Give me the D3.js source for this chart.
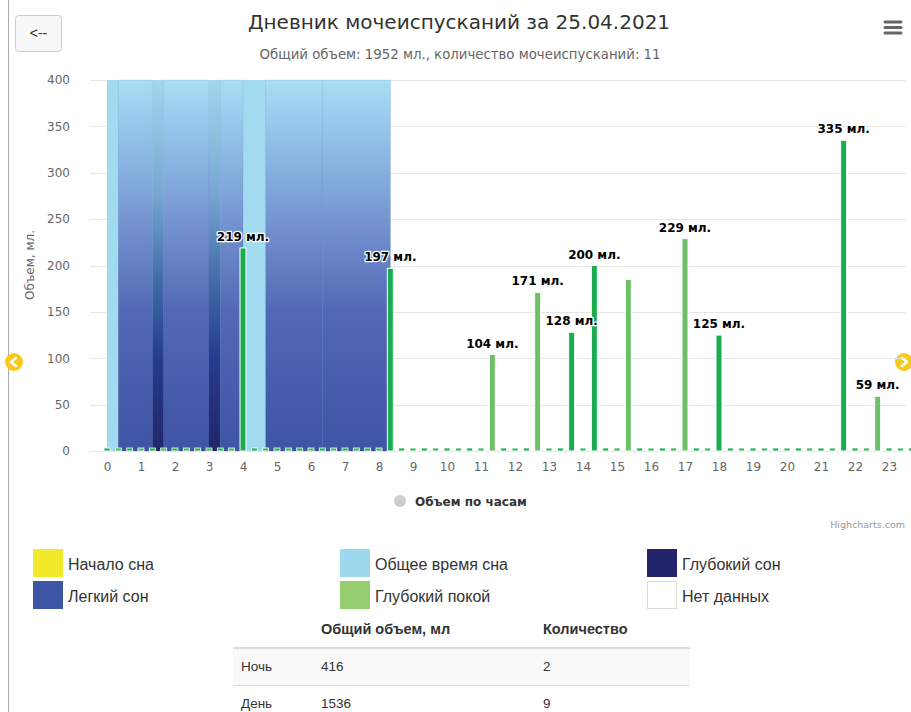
<!DOCTYPE html>
<html>
<head>
<meta charset="utf-8">
<script src="https://cdn.jsdelivr.net/npm/d3@7"></script>
<style>
	body { margin: 0; background: #fff; }
	svg text { font-family: "DejaVu Sans", Verdana, sans-serif; }
	svg .html-like { font-family: "Liberation Sans", Arial, sans-serif; }
</style>
</head>
<body>
<svg id="page" width="911" height="712"></svg>
<script>
// urination events of the day
const eventTimes = ["04:00", "08:20", "11:20", "12:40", "13:40", "14:20", "15:20", "17:00", "18:00", "21:40", "22:40"];
const eventVolumes = [219, 197, 104, 171, 128, 200, 185, 229, 125, 335, 59];
const eventKinds = ["sleep", "sleep", "rest", "rest", "sleep", "sleep", "rest", "rest", "sleep", "sleep", "rest"];
const hiddenLabels = ["15:20"];

// sleep phases
const totalSleep = [["00:00", "08:20"]];
const lightSleep = [["00:20", "01:20"], ["01:40", "03:00"], ["03:20", "04:00"], ["04:40", "06:20"], ["06:20", "08:20"]];
const deepSleep = [["01:20", "01:40"], ["03:00", "03:20"]];

const hourTicks = d3.range(0, 24);
const volumeTicks = [0, 50, 100, 150, 200, 250, 300, 350, 400];

const legendItems = [
	{name: "Начало сна", color: "#f2e92a"},
	{name: "Общее время сна", color: "#9dd9ee"},
	{name: "Глубокий сон", color: "#23246a"},
	{name: "Легкий сон", color: "#3d55a5"},
	{name: "Глубокий покой", color: "#95cc6d"},
	{name: "Нет данных", color: "#ffffff"},
];
const tableHeader = ["", "Общий объем, мл", "Количество"];
const tableRows = [["Ночь", "416", "2"], ["День", "1536", "9"]];

const parseTime = t => { let [h, m] = t.split(":"); return +h + m / 60; };

class UrinationChart {
	constructor() {
		this.svg = d3.select("svg#page");
		this.bounds = {minX: 90, maxX: 906, minY: 80, maxY: 451};

		this.scaleX = d3.scaleLinear().domain([-0.5, 23.5]).range([this.bounds.minX, this.bounds.maxX]);
		this.scaleY = d3.scaleLinear().domain([0, 400]).range([this.bounds.maxY, this.bounds.minY]);

		this.drawFrame();
		this.drawGradients();
		this.drawGrid();
		this.drawSleepBands();
		this.drawZeroSlots();
		this.drawBars();
		this.drawAxes();
		this.drawLegend();
		this.drawPhaseLegend();
		this.drawTable();
	}

	drawFrame() {
		this.svg.append("line")
			.attr("x1", 8.5).attr("x2", 8.5).attr("y1", 0).attr("y2", 712)
			.attr("stroke", "#aaa");

		let btn = this.svg.append("g");
		btn.append("rect")
			.attr("x", 15.5).attr("y", 15.5).attr("width", 46).attr("height", 36).attr("rx", 3)
			.attr("fill", "#f7f7f7").attr("stroke", "#ccc");
		btn.append("text").attr("class", "html-like")
			.attr("x", 38.5).attr("y", 38).attr("text-anchor", "middle")
			.attr("font-size", 14).attr("fill", "#333").text("<--");

		this.svg.append("text")
			.attr("x", 459).attr("y", 29).attr("text-anchor", "middle")
			.attr("font-size", 20).attr("fill", "#333")
			.text("Дневник мочеиспусканий за 25.04.2021");
		this.svg.append("text")
			.attr("x", 460).attr("y", 59).attr("text-anchor", "middle")
			.attr("font-size", 13.3).attr("fill", "#666")
			.text("Общий объем: 1952 мл., количество мочеиспусканий: 11");

		// export menu
		this.svg.append("g").selectAll("line")
			.data([22, 27.5, 33])
			.join("line")
			.attr("x1", 885).attr("x2", 901).attr("y1", d => d).attr("y2", d => d)
			.attr("stroke", "#666").attr("stroke-width", 3).attr("stroke-linecap", "round");

		// navigation arrows
		let arrows = [{x: 14, dir: -1}, {x: 904, dir: 1}];
		let g = this.svg.append("g").selectAll("g").data(arrows).join("g")
			.attr("transform", d => `translate(${d.x} 362)`);
		g.append("circle").attr("r", 9).attr("fill", "#f8c91c");
		g.append("path")
			.attr("d", d => `M${-2 * d.dir} -4 L${3 * d.dir} 0 L${-2 * d.dir} 4`)
			.attr("fill", "none").attr("stroke", "#fff").attr("stroke-width", 2.5)
			.attr("stroke-linecap", "round").attr("stroke-linejoin", "round");
	}

	drawGradients() {
		let defs = this.svg.append("defs");
		let grads = [
			{id: "light-grad", stops: [["0%", "#a9def4"], ["12%", "#97c8ec"], ["38%", "#7594d1"], ["62%", "#5369b5"], ["100%", "#3e54a4"]]},
			{id: "deep-grad", stops: [["0%", "#a3d6ee"], ["30%", "#78a8d2"], ["55%", "#3f6aa8"], ["75%", "#253c8c"], ["100%", "#23266a"]]},
		];
		defs.selectAll("linearGradient").data(grads).join("linearGradient")
			.attr("id", d => d.id)
			.attr("x1", 0).attr("x2", 0).attr("y1", 0).attr("y2", 1)
			.selectAll("stop").data(d => d.stops).join("stop")
			.attr("offset", d => d[0]).attr("stop-color", d => d[1]);
	}

	drawGrid() {
		this.svg.append("g").selectAll("line")
			.data(volumeTicks)
			.join("line")
			.attr("x1", this.bounds.minX).attr("x2", this.bounds.maxX)
			.attr("y1", d => Math.round(this.scaleY(d)) + 0.5)
			.attr("y2", d => Math.round(this.scaleY(d)) + 0.5)
			.attr("stroke", "#e6e6e6");
	}

	drawSleepBands() {
		let g = this.svg.append("g");
		let band = (data, fill) => g.append("g").selectAll("rect")
			.data(data)
			.join("rect")
			.attr("x", d => this.scaleX(parseTime(d[0])))
			.attr("width", d => this.scaleX(parseTime(d[1])) - this.scaleX(parseTime(d[0])))
			.attr("y", this.scaleY(400))
			.attr("height", this.scaleY(0) - this.scaleY(400))
			.attr("fill", fill);
		band(totalSleep, "#a2dbef");
		band(lightSleep, "url(#light-grad)")
			.attr("stroke", "rgba(40,60,150,0.12)").attr("stroke-width", 0.8);
		band(deepSleep, "url(#deep-grad)");
	}

	drawZeroSlots() {
		let taken = eventTimes.map(parseTime);
		let slots = d3.range(0, 72).map(i => i / 3)
			.filter(t => !taken.some(e => Math.abs(e - t) < 0.01));
		this.svg.append("g").selectAll("rect")
			.data(slots)
			.join("rect")
			.attr("x", d => this.scaleX(d) - 3)
			.attr("y", this.scaleY(0) - 3)
			.attr("width", 6).attr("height", 3)
			.attr("fill", (d, i) => i % 2 ? "#3dba62" : "#21b257")
			.attr("stroke", "#fff").attr("stroke-width", 0.8);
	}

	drawBars() {
		let data = eventTimes.map((t, i) => ({t, x: parseTime(t), v: eventVolumes[i], kind: eventKinds[i]}));
		this.svg.append("g").selectAll("rect")
			.data(data)
			.join("rect")
			.attr("x", d => this.scaleX(d.x) - 3)
			.attr("width", 6)
			.attr("y", d => this.scaleY(d.v))
			.attr("height", d => this.scaleY(0) - this.scaleY(d.v))
			.attr("fill", d => d.kind == "sleep" ? "#19ad50" : "#6cc066")
			.attr("stroke", "#fff").attr("stroke-width", 1);

		this.svg.append("g").selectAll("text")
			.data(data.filter(d => !hiddenLabels.includes(d.t)))
			.join("text")
			.attr("x", d => this.scaleX(d.x))
			.attr("y", d => this.scaleY(d.v) - 7)
			.attr("text-anchor", "middle")
			.attr("font-size", 12).attr("font-weight", "bold")
			.attr("fill", "#000")
			.attr("stroke", "#fff").attr("stroke-width", 2.5).attr("paint-order", "stroke")
			.attr("stroke-linejoin", "round")
			.text(d => `${d.v} мл.`);
	}

	drawAxes() {
		let xAxis = d3.axisBottom(this.scaleX).tickValues(hourTicks).tickSize(0).tickPadding(11);
		let axisX = this.svg.append("g")
			.attr("transform", `translate(0 ${this.bounds.maxY})`)
			.call(xAxis);
		axisX.select(".domain").remove();
		axisX.selectAll("text").attr("font-size", 12).attr("fill", "#666")
			.attr("font-family", "DejaVu Sans");

		let yAxis = d3.axisLeft(this.scaleY).tickValues(volumeTicks).tickSize(0).tickPadding(20);
		let axisY = this.svg.append("g")
			.attr("transform", `translate(${this.bounds.minX} 0)`)
			.call(yAxis);
		axisY.select(".domain").remove();
		axisY.selectAll("text").attr("font-size", 12).attr("fill", "#666")
			.attr("font-family", "DejaVu Sans");

		this.svg.append("text")
			.attr("transform", "translate(34 265) rotate(-90)")
			.attr("text-anchor", "middle")
			.attr("font-size", 12).attr("fill", "#666")
			.text("Объем, мл.");
	}

	drawLegend() {
		this.svg.append("circle").attr("cx", 400).attr("cy", 501).attr("r", 6).attr("fill", "#ccc");
		this.svg.append("text")
			.attr("x", 415).attr("y", 506)
			.attr("font-size", 12).attr("font-weight", "bold").attr("fill", "#333")
			.text("Объем по часам");
		this.svg.append("text")
			.attr("x", 905).attr("y", 528).attr("text-anchor", "end")
			.attr("font-size", 9.5).attr("fill", "#999")
			.text("Highcharts.com");
	}

	drawPhaseLegend() {
		let colX = [33, 340, 647];
		let rowY = [549, 581];
		let items = this.svg.append("g").selectAll("g")
			.data(legendItems)
			.join("g")
			.attr("transform", (d, i) => `translate(${colX[i % 3]} ${rowY[Math.floor(i / 3)]})`);
		items.append("rect")
			.attr("x", 0.5).attr("y", 0.5).attr("width", 29).attr("height", 27)
			.attr("fill", d => d.color)
			.attr("stroke", d => d.color == "#ffffff" ? "#ddd" : d.color);
		items.append("text").attr("class", "html-like")
			.attr("x", 35).attr("y", 21)
			.attr("font-size", 16).attr("fill", "#333")
			.text(d => d.name);
	}

	drawTable() {
		let colX = [241, 321, 543];
		let g = this.svg.append("g").attr("class", "table");
		g.append("rect").attr("x", 233).attr("y", 649).attr("width", 457).attr("height", 36).attr("fill", "#f9f9f9");
		g.append("line").attr("x1", 233).attr("x2", 690).attr("y1", 648).attr("y2", 648)
			.attr("stroke", "#ddd").attr("stroke-width", 2);
		g.append("line").attr("x1", 233).attr("x2", 690).attr("y1", 685.5).attr("y2", 685.5)
			.attr("stroke", "#ddd");

		g.selectAll("text.head").data(tableHeader).join("text")
			.attr("class", "head html-like")
			.attr("x", (d, i) => colX[i]).attr("y", 634)
			.attr("font-size", 14.5).attr("font-weight", "bold").attr("fill", "#333")
			.text(d => d);

		g.selectAll("g.row").data(tableRows).join("g")
			.attr("class", "row")
			.attr("transform", (d, i) => `translate(0 ${671 + i * 37})`)
			.selectAll("text").data(d => d).join("text")
			.attr("class", "html-like")
			.attr("x", (d, i) => colX[i])
			.attr("font-size", 13.5).attr("fill", "#333")
			.text(d => d);
	}
}

new UrinationChart();
</script>
</body>
</html>
